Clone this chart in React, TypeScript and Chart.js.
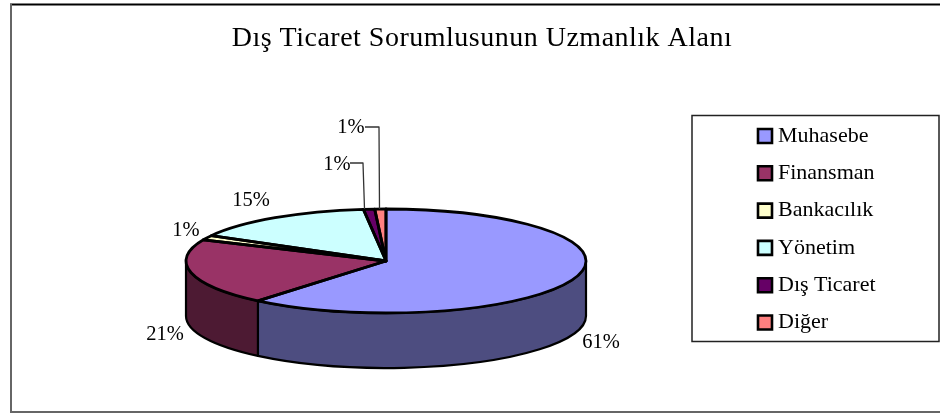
import React, { useEffect, useRef } from "react";
import { Chart, registerables } from "chart.js";

Chart.register(...registerables);

const titleText = "Dış Ticaret Sorumlusunun Uzmanlık Alanı";
const categories = ["Muhasebe", "Finansman", "Bankacılık", "Yönetim", "Dış Ticaret", "Diğer"];
const shares = [61, 20.6, 1.4, 15.1, 0.9, 0.9];
const colors = ["#9999FF", "#993366", "#FFFFCC", "#CCFFFF", "#660066", "#FF8080"];
const wallColors = ["#4D4D80", "#4D1A33", "#808066", "#668080", "#330033", "#804040"];

const FONT = "'Liberation Serif', 'Times New Roman', serif";
const SQUASH = 0.26;
const DEPTH = 55;
const LABEL_POS = [[601, 343], [165, 335], [186, 231], [251, 201], [337, 165], [351, 128]];
const LEADERS: Record<number, number[][]> = {
  4: [[350, 163], [363, 163], [364.5, 209]],
  5: [[365, 127], [379, 127], [379.5, 209]],
};

function withSpacing(box: any, spacing: string, shift: number) {
  if (box._spaced) return;
  box._spaced = true;
  const orig = box.draw;
  box.draw = function (...args: any[]) {
    const c = this.ctx;
    const ft = c.fillText;
    c.fillText = (t: string, x: number, y: number) => ft.call(c, t, x + shift, y);
    c.letterSpacing = spacing;
    orig.apply(this, args);
    c.letterSpacing = "0px";
    delete c.fillText;
  };
}

const pie3d = {
  id: "pie3d",
  afterLayout(chart: any) {
    const t = chart.titleBlock;
    if (t) {
      t.left = 24; t.right = 940; t.top = 22; t.bottom = 56;
      withSpacing(t, "0.5px", 0);
    }
    const l = chart.legend;
    if (l) {
      const p = 15.3;
      l.left = 758 - p; l.right = 940; l.top = 125 - p; l.bottom = 413;
      withSpacing(l, "0px", -5);
    }
  },
  beforeDraw(chart: any) {
    const c = chart.ctx;
    c.save();
    c.fillStyle = "#fff";
    c.fillRect(0, 0, 940, 413);
    c.lineWidth = 2;
    c.strokeStyle = "#000";
    c.beginPath(); c.moveTo(10, 4.5); c.lineTo(940, 4.5); c.stroke();
    c.strokeStyle = "#666";
    c.beginPath(); c.moveTo(11, 4); c.lineTo(11, 412); c.lineTo(940, 412); c.stroke();
    c.lineWidth = 1.5;
    c.strokeStyle = "#222";
    c.strokeRect(692, 115.5, 247, 226);
    c.restore();
  },
  beforeDatasetsDraw(chart: any) {
    const c = chart.ctx;
    const arcs = chart.getDatasetMeta(0).data;
    const cx = arcs[0].x, cy = arcs[0].y, rx = arcs[0].outerRadius, ry = rx * SQUASH;
    c.save();
    c.strokeStyle = "#000";
    c.lineWidth = 2.2;
    c.lineJoin = "round";
    arcs.forEach((a: any, i: number) => {
      const s = Math.max(a.startAngle, 0), e = Math.min(a.endAngle, Math.PI);
      if (e <= s) return;
      c.beginPath();
      c.ellipse(cx, cy, rx, ry, 0, s, e);
      c.ellipse(cx, cy + DEPTH, rx, ry, 0, e, s, true);
      c.closePath();
      c.fillStyle = wallColors[i];
      c.fill();
      c.stroke();
    });
    c.restore();
    c.save();
    c.translate(cx, cy);
    c.scale(1, SQUASH);
    c.translate(-cx, -cy);
  },
  afterDatasetsDraw(chart: any) {
    const c = chart.ctx;
    c.restore();
    const arcs = chart.getDatasetMeta(0).data;
    const cx = arcs[0].x, cy = arcs[0].y, rx = arcs[0].outerRadius, ry = rx * SQUASH;
    c.save();
    c.strokeStyle = "#000";
    c.lineWidth = 2.8;
    c.lineJoin = "round";
    arcs.forEach((a: any) => {
      c.beginPath();
      c.moveTo(cx, cy);
      c.ellipse(cx, cy, rx, ry, 0, a.startAngle, a.endAngle);
      c.closePath();
      c.stroke();
    });
    c.strokeStyle = "#333";
    c.lineWidth = 1.3;
    Object.values(LEADERS).forEach((pts) => {
      c.beginPath();
      pts.forEach((p, k) => (k ? c.lineTo(p[0], p[1]) : c.moveTo(p[0], p[1])));
      c.stroke();
    });
    c.font = `20.5px ${FONT}`;
    c.fillStyle = "#000";
    c.textAlign = "center";
    c.textBaseline = "middle";
    const total = shares.reduce((x, y) => x + y, 0);
    shares.forEach((v, i) => {
      c.fillText(`${Math.round((v / total) * 100)}%`, LABEL_POS[i][0], LABEL_POS[i][1]);
    });
    c.restore();
  },
};

export default function App() {
  const ref = useRef<HTMLCanvasElement>(null);
  useEffect(() => {
    document.body.style.margin = "0";
    const chart = new Chart(ref.current!, {
      type: "pie",
      data: {
        labels: categories,
        datasets: [{ data: shares, backgroundColor: colors, borderWidth: 0, clip: false } as any],
      },
      options: {
        responsive: false,
        animation: false,
        radius: 200,
        layout: { padding: { left: 0, right: 168, top: 75.4, bottom: 0 } },
        plugins: {
          tooltip: { enabled: false },
          title: {
            display: true,
            text: titleText,
            padding: 0,
            color: "#000",
            font: { family: FONT, size: 28, weight: "normal", lineHeight: 1.2 },
          },
          legend: {
            display: true,
            position: "chartArea",
            align: "start",
            labels: {
              boxWidth: 14,
              boxHeight: 14,
              padding: 15.3,
              color: "#000",
              font: { family: FONT, size: 22 },
              generateLabels(ch: any) {
                const items = (Chart as any).overrides.pie.plugins.legend.labels.generateLabels(ch);
                items.forEach((it: any) => {
                  it.lineWidth = 2.6;
                  it.strokeStyle = "#000";
                });
                return items;
              },
            },
          },
        },
      } as any,
      plugins: [pie3d],
    });
    return () => chart.destroy();
  }, []);
  return <canvas ref={ref} width={940} height={413} style={{ display: "block" }} />;
}
